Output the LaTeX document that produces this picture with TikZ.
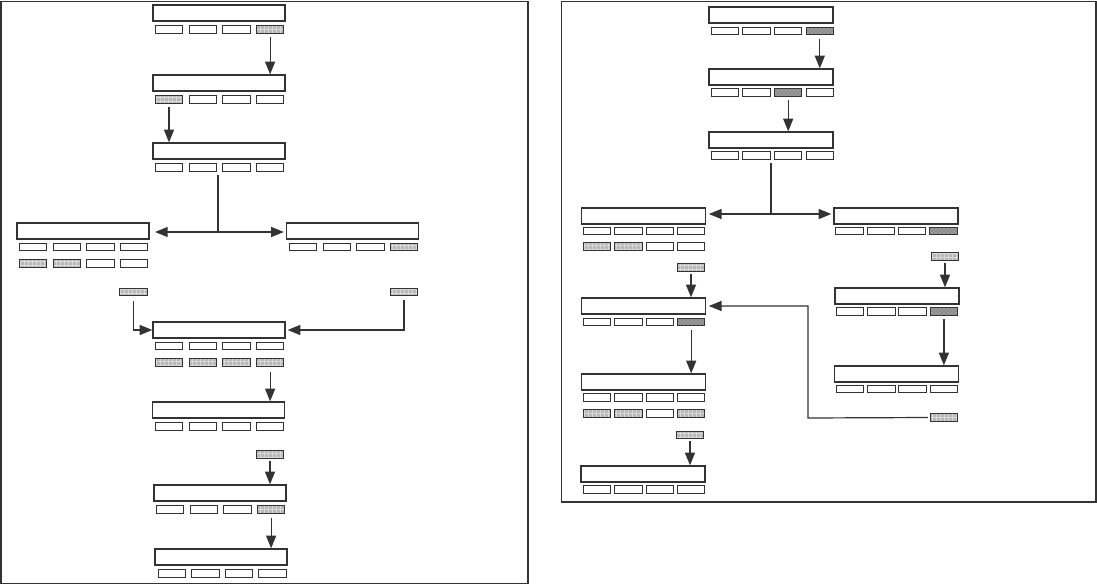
\documentclass[tikz,border=0pt]{standalone}
\usetikzlibrary{arrows.meta,patterns}
\definecolor{ink}{HTML}{333333}
\tikzset{
  frame/.style={draw=ink,line width=1.1pt},
  bigbox/.style={draw=ink,line width=1pt,minimum width=99pt,minimum height=12pt,inner sep=0pt},
  bigboxr/.style={bigbox,minimum width=93pt},
  cw/.style={draw=ink,line width=0.7pt,minimum width=20.5pt,minimum height=5.6pt,inner sep=0pt},
  cl/.style={cw,preaction={fill=black!28},pattern=grid,pattern color=white!85!black},
  cd/.style={cw,preaction={fill=black!45},pattern=crosshatch dots,pattern color=white!80!black},
  ln/.style={draw=ink,line width=0.9pt},
  arr/.style={ln,-{Triangle[length=9.5pt,width=7.5pt]}},
  arr2/.style={ln,{Triangle[length=9.5pt,width=7.5pt]}-{Triangle[length=9.5pt,width=7.5pt]}},
}
% row of four cells: prefix, x of first, y, pitch, four styles
\newcommand\crow[8]{%
  \node[#5] (#1a) at (#2,#3) {};
  \node[#6] (#1b) at ({#2+#4},#3) {};
  \node[#7] (#1c) at ({#2+2*#4},#3) {};
  \node[#8] (#1d) at ({#2+3*#4},#3) {};
}
\begin{document}
\begin{tikzpicture}[x=0.75pt,y=-0.75pt]
\useasboundingbox (0,0) rectangle (1097,585);
% frames
\draw[frame] (1,1.5) rectangle (528,583.5);
\draw[frame] (561.5,1.5) rectangle (1096,502);

% ---------- left panel ----------
\node[bigbox] (L1) at (219,13) {};
\crow{L1}{169}{29.5}{33.7}{cw}{cw}{cw}{cl}
\node[bigbox] (L2) at (219,83) {};
\crow{L2}{169}{99.5}{33.7}{cl}{cw}{cw}{cw}
\node[bigbox] (L3) at (219,151) {};
\crow{L3}{169}{167.5}{33.7}{cw}{cw}{cw}{cw}
\node[bigbox] (L4) at (83,231) {};
\crow{L4}{33}{247}{33.7}{cw}{cw}{cw}{cw}
\crow{L4r}{33}{263.5}{33.7}{cl}{cl}{cw}{cw}
\node[cl] (L4s) at (133.5,292) {};
\node[bigbox] (L5) at (352.5,231) {};
\crow{L5}{303}{247}{33.7}{cw}{cw}{cw}{cl}
\node[cl] (L5s) at (404,292) {};
\node[bigbox] (L6) at (219,330) {};
\crow{L6}{169}{346}{33.7}{cw}{cw}{cw}{cw}
\crow{L6r}{169}{362.5}{33.7}{cl}{cl}{cl}{cl}
\node[bigbox] (L7) at (218.5,410) {};
\crow{L7}{169}{426.5}{33.7}{cw}{cw}{cw}{cw}
\node[cl] (L7s) at (270,454.5) {};
\node[bigbox] (L8) at (220,493) {};
\crow{L8}{170}{509.5}{33.7}{cw}{cw}{cw}{cl}
\node[bigbox] (L9) at (221,557) {};
\crow{L9}{172}{573.5}{33.5}{cw}{cw}{cw}{cw}

\coordinate (L3o) at (218,175);
\coordinate (L3j) at (218,232);
\draw[arr,shorten <=2.5pt] (L1d.south) -- (L1d.south |- L2.north);
\draw[arr,shorten <=2.5pt] (L2a.south) -- (L2a.south |- L3.north);
\draw[ln] (L3o) -- (L3j);
\draw[arr2,shorten <=4pt,shorten >=1.5pt] (L4.east |- L3j) -- (L5.west |- L3j);
\draw[arr,shorten <=3.5pt] (L4s.south) |- (L6.west);
\draw[arr,shorten <=3pt,shorten >=1.5pt] (L5s.south) |- (L6.east);
\draw[arr,shorten <=4pt] (L6rd.south) -- (L6rd.south |- L7.north);
\draw[arr,shorten <=1.5pt] (L7s.south) -- (L7s.south |- L8.north);
\draw[arr,shorten <=3.5pt] (L8d.south) -- (L8d.south |- L9.north);

% ---------- right panel ----------
\node[bigboxr] (R1) at (771,15) {};
\crow{R1}{725}{31}{31.6}{cw}{cw}{cw}{cd}
\node[bigboxr] (R2) at (771,77) {};
\crow{R2}{725}{92.5}{31.6}{cw}{cw}{cd}{cw}
\node[bigboxr] (R3) at (771,140) {};
\crow{R3}{725}{155.5}{31.6}{cw}{cw}{cw}{cw}
\node[bigboxr] (R4) at (643.5,216) {};
\crow{R4}{597}{231}{31.4}{cw}{cw}{cw}{cw}
\crow{R4r}{597}{246.5}{31.4}{cl}{cl}{cw}{cw}
\node[cl] (R4s) at (691,267.5) {};
\node[bigboxr] (R5) at (643.5,306) {};
\crow{R5}{597}{322}{31.4}{cw}{cw}{cw}{cd}
\node[bigboxr] (R6) at (643.5,382) {};
\crow{R6}{597}{397.5}{31.4}{cw}{cw}{cw}{cw}
\crow{R6r}{597}{413.5}{31.4}{cl}{cl}{cw}{cl}
\node[cl] (R6s) at (690,435) {};
\node[bigboxr] (R7) at (643,474) {};
\crow{R7}{597}{489.5}{31.4}{cw}{cw}{cw}{cw}
\node[bigboxr] (R8) at (896,216) {};
\crow{R8}{849.5}{231}{31.3}{cw}{cw}{cw}{cd}
\node[cl] (R8s) at (945,256.5) {};
\node[bigboxr] (R9) at (897,296) {};
\crow{R9}{850}{311.5}{31.3}{cw}{cw}{cw}{cd}
\node[bigboxr] (R10) at (896.5,374) {};
\crow{R10}{850}{389}{31.3}{cw}{cw}{cw}{cw}
\node[cl] (R10s) at (944,417.5) {};

\coordinate (R3o) at (771,163);
\coordinate (R3j) at (771,214);
\coordinate (R10k) at (808,418);
\draw[arr,shorten <=2.5pt] (R1d.south) -- (R1d.south |- R2.north);
\draw[arr,shorten <=2.5pt] (R2c.south) -- (R2c.south |- R3.north);
\draw[ln] (R3o) -- (R3j);
\draw[arr2,shorten <=2pt,shorten >=1.5pt] (R4.east |- R3j) -- (R8.west |- R3j);
\draw[arr,shorten <=1.5pt] (R4s.south) -- (R4s.south |- R5.north);
\draw[arr,shorten <=3pt] (R5d.south) -- (R5d.south |- R6.north);
\draw[arr,shorten <=1.5pt] (R6s.south) -- (R6s.south |- R7.north);
\draw[arr,shorten <=1.5pt] (R8s.south) -- (R8s.south |- R9.north);
\draw[arr,shorten <=2.5pt] (R9d.south) -- (R9d.south |- R10.north);
\draw[arr,shorten <=1.5pt,shorten >=2pt] (R10s.west) -- (R10k) |- (R5.east);
\end{tikzpicture}
\end{document}
